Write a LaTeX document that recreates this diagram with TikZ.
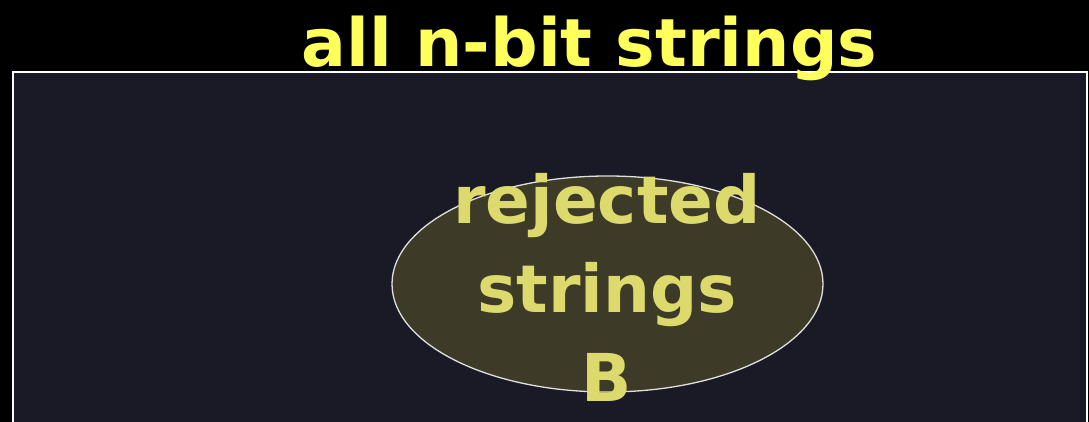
\documentclass[tikz,border=0pt]{standalone}
\usepackage{fontspec}
\setmainfont{DejaVu Sans}
\usetikzlibrary{shapes.geometric}

\definecolor{fondo}{HTML}{1A1A26}
\definecolor{oliva}{HTML}{3D3B27}
\definecolor{amarillo}{HTML}{FFFF5C}
\definecolor{paja}{HTML}{DCDA6C}

\begin{document}
\begin{tikzpicture}[x=1pt,y=1pt,
% Estilo del rectángulo
caja/.style={draw=white, line width=2pt, fill=fondo},
% Estilo de la elipse
elip/.style={ellipse, inner sep=0pt, minimum width=431pt, minimum height=216pt, draw=gray!25, line width=1.3pt, fill=oliva},
% Estilo de los textos
titulo/.style={text=amarillo, font=\bfseries\fontsize{66.5}{78}\selectfont},
rotulo/.style={text=paja, align=center, font=\bfseries\fontsize{66}{89}\selectfont},
]
% Fondo
\fill[black] (0,0) rectangle (1089,422);
\useasboundingbox (0,0) rectangle (1089,422);

% Conjunto de todas las cadenas
\draw[caja] (13,350) rectangle (1087,-10);

% Elipse
\node (B) at (607.5,138) [elip]{};

% Textos
\node (todas) at (589.5,355) [titulo, anchor=base]{all n-bit strings};
\node (rech) at (607,135) [rotulo]{rejected\\strings\\B};
\end{tikzpicture}
\end{document}
